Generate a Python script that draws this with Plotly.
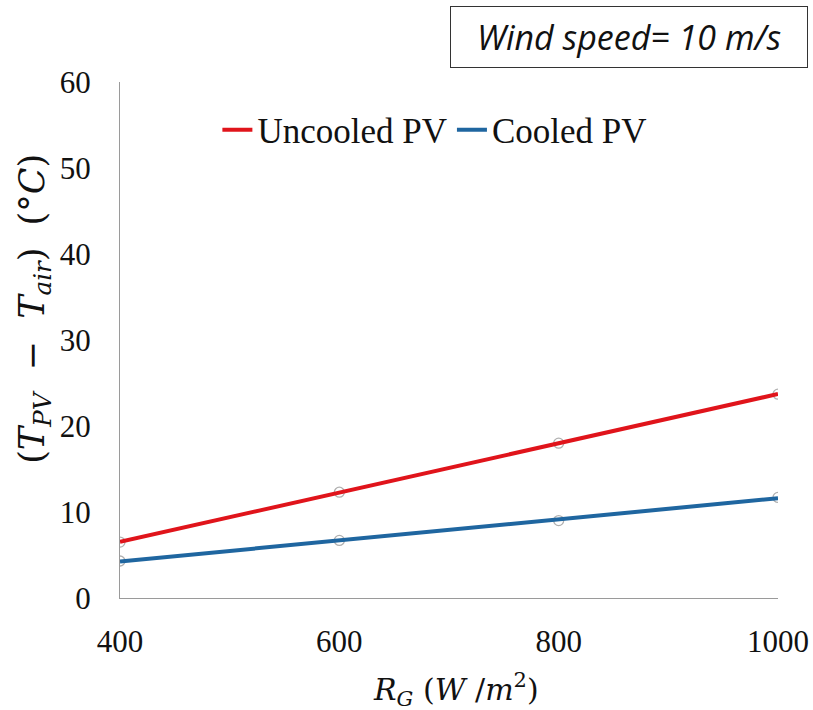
import numpy as np
import plotly.graph_objects as go

# Solar irradiance levels (W/m2)
irradiance = [400, 600, 800, 1000]
# Temperature difference between PV panel and ambient air (°C)
uncooled_dt = [6.5, 12.3, 18.0, 23.7]
cooled_dt = [4.3, 6.7, 9.0, 11.7]

series = [
    ("Uncooled PV", uncooled_dt, "#e0141b"),
    ("Cooled PV", cooled_dt, "#1f66a0"),
]

fig = go.Figure()

x_line = np.array([min(irradiance), max(irradiance)], dtype=float)

# Measured points (white circles) underneath the linear trend lines
for name, vals, color in series:
    fig.add_trace(go.Scatter(
        x=irradiance, y=vals, mode="markers", showlegend=False,
        marker=dict(size=10, color="white", line=dict(color="#b0b0b0", width=1.3)),
        hoverinfo="skip",
    ))

for name, vals, color in series:
    slope, intercept = np.polyfit(irradiance, vals, 1)
    fig.add_trace(go.Scatter(
        x=x_line, y=slope * x_line + intercept, mode="lines", name=name,
        line=dict(color=color, width=4),
    ))

serif = "Liberation Serif, Times New Roman, serif"
math_serif = "DejaVu Serif, serif"

fig.update_layout(
    width=813, height=710,
    margin=dict(l=120, r=35, t=82, b=112),
    plot_bgcolor="white", paper_bgcolor="white",
    font=dict(family=serif, size=31, color="#111111"),
    showlegend=True,
    legend=dict(
        orientation="h", x=0.148, xanchor="left", y=0.907, yanchor="middle",
        font=dict(family=serif, size=35, color="#111111"),
        itemwidth=30, tracegroupgap=0, bgcolor="rgba(0,0,0,0)",
    ),
    xaxis=dict(
        range=[400, 1000], tickvals=[400, 600, 800, 1000],
        showgrid=False, zeroline=False, showline=True, automargin=False,
        linecolor="#9a9a9a", linewidth=1, ticks="", ticklabelstandoff=16,
        tickfont=dict(family=serif, size=31),
    ),
    yaxis=dict(
        range=[0, 60], tickvals=[0, 10, 20, 30, 40, 50, 60],
        showgrid=False, zeroline=False, showline=True, automargin=False,
        linecolor="#9a9a9a", linewidth=1, ticks="", ticklabelstandoff=22,
        tickfont=dict(family=serif, size=31),
    ),
    annotations=[
        dict(
            text="<i>Wind speed= 10 m/s</i>",
            xref="paper", yref="paper", x=1.046, y=1.088,
            xanchor="right", yanchor="middle", showarrow=False,
            font=dict(family="Open Sans, Noto Sans, sans-serif", size=34, color="#111111"),
            bordercolor="#333333", borderwidth=1, borderpad=8, bgcolor="white",
            width=340, height=44,
        ),
        # x-axis title
        dict(
            text="<i>R</i><sub><i>G</i></sub> (<i>W</i> /<i>m</i><sup>2</sup>)",
            xref="paper", yref="paper", x=0.51, y=-0.178,
            xanchor="center", yanchor="middle", showarrow=False,
            font=dict(family=math_serif, size=30, color="#111111"),
        ),
        # y-axis title
        dict(
            text="(<i>T</i><sub><i>PV</i></sub>&nbsp; − &nbsp;<i>T</i><sub><i>air</i></sub>)&nbsp; (°<i>C</i>)",
            xref="paper", yref="paper", x=-0.131, y=0.56,
            xanchor="center", yanchor="middle", textangle=-90, showarrow=False,
            font=dict(family=math_serif, size=35, color="#111111"),
        ),
    ],
)

fig.write_html("out.html")
